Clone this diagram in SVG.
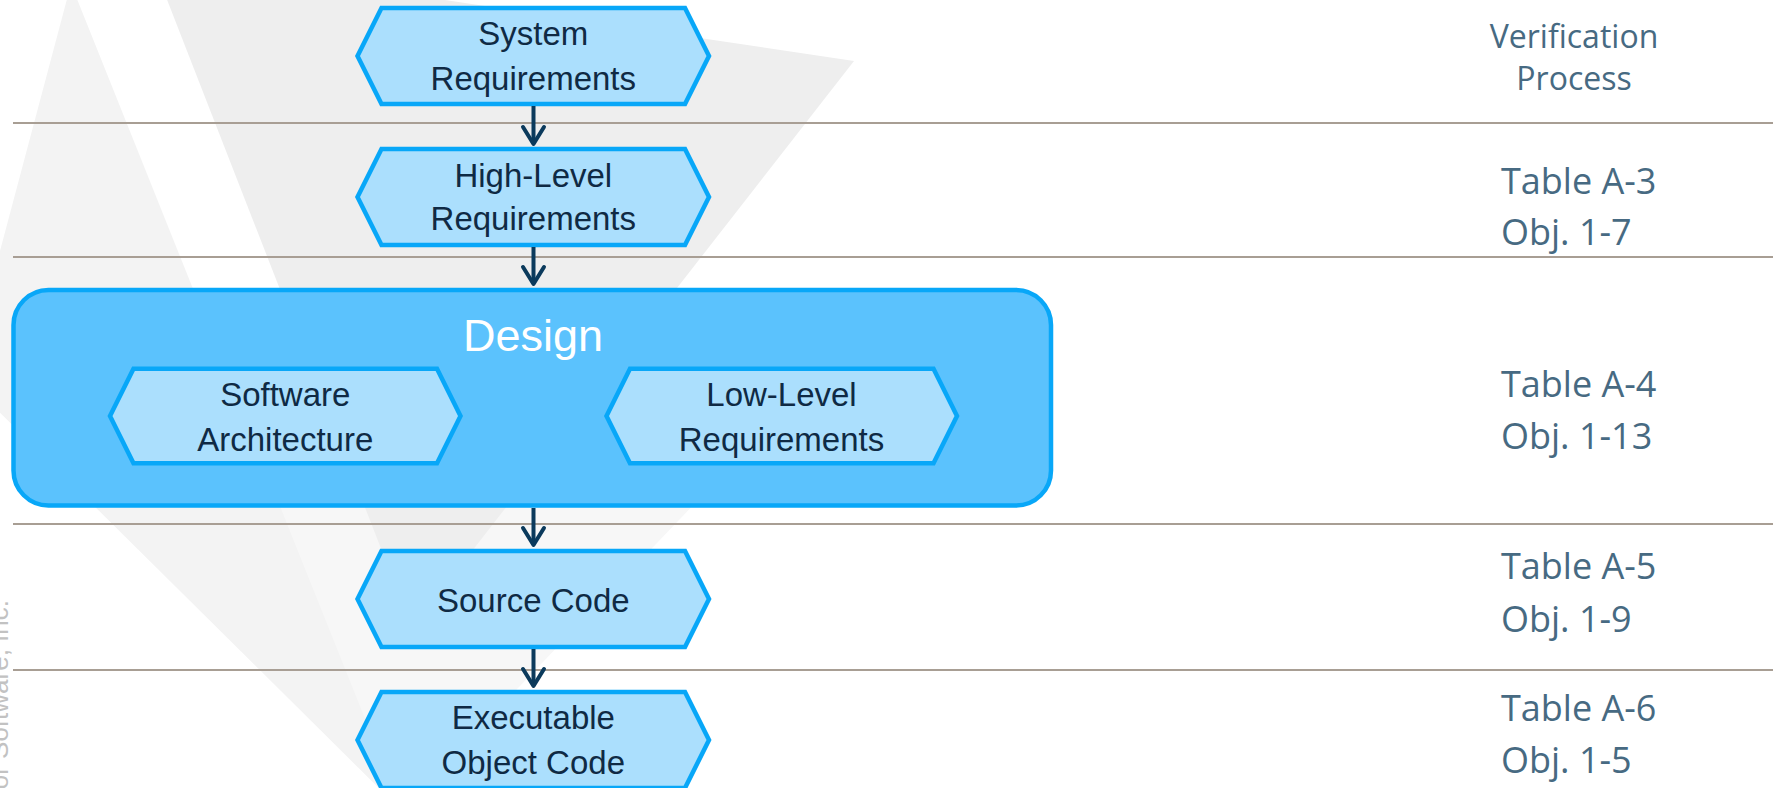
<svg xmlns="http://www.w3.org/2000/svg" width="1773" height="788" viewBox="0 0 1773 788">
  <defs>
    <style>
      .hex { fill: #abdffd; stroke: #08a7f8; stroke-width: 4.5; stroke-linejoin: miter; }
      .lbl { font-family: "Liberation Sans", Arial, sans-serif; font-size: 33px; fill: #0f2a44; text-anchor: middle; }
      .side { font-family: "Open Sans", "Liberation Sans", sans-serif; fill: #476a82; }
      .side-head { font-size: 32px; text-anchor: middle; }
      .side-ref { font-size: 36px; }
      .rule { stroke: #a89e94; stroke-width: 2; }
      .conn { stroke: #0b3a5c; stroke-width: 4; fill: none; marker-end: url(#arrow); }
    </style>
    <marker id="arrow" markerUnits="userSpaceOnUse" viewBox="0 0 26 28" markerWidth="26" markerHeight="28" refX="21" refY="14" orient="auto">
      <path d="M4,3.5 L21,14 L4,24.5" fill="none" stroke="#0b3a5c" stroke-width="4" stroke-linejoin="round" stroke-linecap="round"/>
    </marker>
  </defs>

  <rect width="1773" height="788" fill="#ffffff"/>

  <!-- watermark triangles -->
  <g id="watermark">
    <polygon points="150,400 794,400 405,806" fill="#f7f7f7"/>
    <polygon points="71,-16 -34,379 402,811" fill="#f3f3f3"/>
    <polygon points="150,-44 854,61 412,628" fill="#eeeeee"/>
  </g>

  <!-- lane separators -->
  <g id="rules">
    <line class="rule" x1="13" y1="123" x2="1773" y2="123"/>
    <line class="rule" x1="13" y1="257" x2="1773" y2="257"/>
    <line class="rule" x1="13" y1="524" x2="1773" y2="524"/>
    <line class="rule" x1="13" y1="670" x2="1773" y2="670"/>
  </g>

  <text transform="translate(7.5,600) rotate(-90)" text-anchor="end" font-family="Liberation Sans, Arial, sans-serif" font-size="26" fill="#c2c2c2">tor Software, Inc.</text>

  <!-- verification column -->
  <g id="verification" class="side">
    <text class="side-head" x="1574" y="48">Verification</text>
    <text class="side-head" x="1574" y="90">Process</text>
    <text class="side-ref" x="1501" y="194">Table A-3</text>
    <text class="side-ref" x="1501" y="245">Obj. 1-7</text>
    <text class="side-ref" x="1501" y="397">Table A-4</text>
    <text class="side-ref" x="1501" y="449">Obj. 1-13</text>
    <text class="side-ref" x="1501" y="579">Table A-5</text>
    <text class="side-ref" x="1501" y="632">Obj. 1-9</text>
    <text class="side-ref" x="1501" y="721">Table A-6</text>
    <text class="side-ref" x="1501" y="773">Obj. 1-5</text>
  </g>

  <g id="system-requirements">
    <polygon class="hex" points="357.5,56 381.5,8 685,8 709,56 685,104 381.5,104"/>
    <text class="lbl" x="533.3" y="45">System</text>
    <text class="lbl" x="533.3" y="90">Requirements</text>
  </g>

  <g id="high-level-requirements">
    <polygon class="hex" points="357.5,197 381.5,149 685,149 709,197 685,245 381.5,245"/>
    <text class="lbl" x="533.3" y="187">High-Level</text>
    <text class="lbl" x="533.3" y="230">Requirements</text>
  </g>

  <g id="design">
    <rect x="13.5" y="290" width="1037.5" height="215.5" rx="35" ry="35" fill="#5bc2fd" stroke="#08a7f8" stroke-width="4.5"/>
    <text x="533" y="351" text-anchor="middle" font-family="Liberation Sans, Arial, sans-serif" font-size="45" fill="#ffffff">Design</text>
  </g>

  <g id="software-architecture">
    <polygon class="hex" points="110,416 133.5,368.7 437,368.7 460.5,416 437,463.3 133.5,463.3"/>
    <text class="lbl" x="285.3" y="406">Software</text>
    <text class="lbl" x="285.3" y="451">Architecture</text>
  </g>

  <g id="low-level-requirements">
    <polygon class="hex" points="606.5,416 630,368.7 933.5,368.7 957,416 933.5,463.3 630,463.3"/>
    <text class="lbl" x="781.5" y="406">Low-Level</text>
    <text class="lbl" x="781.5" y="451">Requirements</text>
  </g>

  <g id="source-code">
    <polygon class="hex" points="357.5,599 381.5,551 685,551 709,599 685,647 381.5,647"/>
    <text class="lbl" x="533.3" y="612">Source Code</text>
  </g>

  <g id="executable-object-code">
    <polygon class="hex" points="357.5,740 381.5,692 685,692 709,740 685,788 381.5,788"/>
    <text class="lbl" x="533.3" y="729">Executable</text>
    <text class="lbl" x="533.3" y="774">Object Code</text>
  </g>

  <!-- connectors -->
  <g id="connectors">
    <line class="conn" x1="533.5" y1="106" x2="533.5" y2="144"/>
    <line class="conn" x1="533.5" y1="247" x2="533.5" y2="284"/>
    <line class="conn" x1="533.5" y1="508" x2="533.5" y2="545"/>
    <line class="conn" x1="533.5" y1="649" x2="533.5" y2="686"/>
  </g>
</svg>
